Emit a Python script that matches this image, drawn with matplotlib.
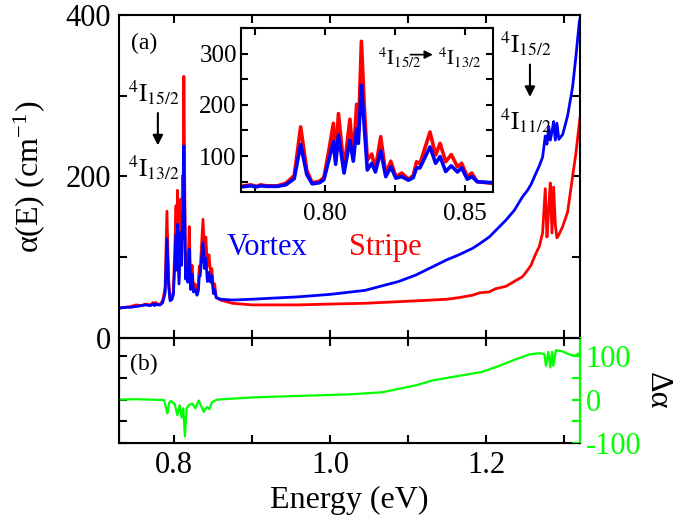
import numpy as np
import matplotlib
matplotlib.use("Agg")
import matplotlib.pyplot as plt
from matplotlib.ticker import MultipleLocator

plt.rcParams['font.family'] = ['Liberation Serif', 'DejaVu Serif']
plt.rcParams['mathtext.fontset'] = 'stix'
plt.rcParams['axes.unicode_minus'] = False

# absorption spectra
energy = [0.730, 0.738, 0.745, 0.752, 0.758, 0.764, 0.770, 0.7735, 0.7755, 0.777, 0.779,
          0.783, 0.786, 0.789, 0.7913, 0.7935, 0.7954, 0.798, 0.7996, 0.8014, 0.803,
          0.8038, 0.8048, 0.8068, 0.8089, 0.8101, 0.8113, 0.8119, 0.8130, 0.8140, 0.8151,
          0.8167, 0.8180, 0.8199, 0.8217, 0.8235, 0.8253, 0.8274, 0.8298, 0.8315, 0.8327,
          0.8339, 0.8375, 0.8395, 0.8411, 0.8431, 0.8451, 0.8473, 0.8488, 0.8508, 0.8524,
          0.8544, 0.860, 0.875, 0.900, 0.920, 0.960, 1.000, 1.045, 1.088, 1.110, 1.131,
          1.150, 1.165, 1.1825, 1.192, 1.2038, 1.212, 1.2253, 1.2359, 1.2466, 1.2530,
          1.2573, 1.2637, 1.2679, 1.2722, 1.2756, 1.2778, 1.2800, 1.2820, 1.2842, 1.2863,
          1.2885, 1.2905, 1.2930, 1.2979, 1.3042, 1.3106, 1.3150, 1.3192, 1.3200]
stripe = [37, 38, 39, 41, 40, 42, 41, 44, 41, 44, 42,
          42, 47, 62, 157, 72, 48, 51, 58, 112, 164,
          92, 183, 75, 172, 96, 201, 140, 324, 200, 92,
          104, 75, 138, 65, 90, 60, 67, 55, 62, 89,
          85, 147, 102, 125, 89, 103, 79, 86, 60, 67,
          50, 47, 43, 41, 41, 41, 42, 43, 45, 46, 47,
          48, 50, 53, 56, 57, 61, 64, 70, 76, 84,
          90, 105, 113, 130, 185, 125, 160, 192, 130, 187,
          140, 124, 128, 138, 156, 200, 230, 266, 272]
vortex = [37, 38, 38, 39, 40, 41, 40, 42, 40, 42, 41,
          41, 44, 56, 123, 64, 46, 48, 54, 93, 128,
          84, 141, 67, 131, 90, 154, 125, 238, 160, 73,
          86, 69, 110, 60, 79, 57, 60, 53, 58, 77,
          77, 118, 86, 99, 70, 81, 69, 77, 55, 60,
          50, 48, 47, 48, 49, 51, 54, 59, 70, 78, 88,
          97, 103, 111, 117, 125, 133, 146, 158, 175, 183,
          190, 204, 213, 224, 250, 240, 262, 245, 255, 268,
          245, 266, 246, 252, 275, 311, 350, 392, 395]

# difference spectrum (panel b)
diff_energy = [0.730, 0.750, 0.770, 0.7877, 0.792, 0.7941, 0.7963, 0.8013, 0.8047, 0.8076,
               0.8101, 0.8122, 0.8143, 0.8165, 0.8194, 0.8236, 0.8278, 0.832, 0.8384, 0.8426,
               0.8456, 0.849, 0.8553, 0.90, 0.95, 1.0244, 1.067, 1.110, 1.131, 1.153,
               1.195, 1.217, 1.238, 1.255, 1.268, 1.2744, 1.2765, 1.2795, 1.2821, 1.2842,
               1.2859, 1.2893, 1.2979, 1.3064, 1.3128, 1.3192]
diff_alpha = [0, 1, 0, -1, -32, -8, -3, -10, -36, -13,
              -41, -20, -85, -20, -13, -9, -20, -2, -28, -17,
              -22, -6, 0, 5, 8, 12, 17, 33, 44, 51,
              64, 78, 93, 104, 107, 105, 78, 110, 74, 110,
              78, 114, 111, 104, 101, 107]

RED = '#ff0000'
BLUE = '#0000ff'
GREEN = '#00ff00'

fig = plt.figure(figsize=(6.9, 5.22), dpi=100)
ax = fig.add_axes([0.1725, 0.3525, 0.668, 0.6188])
axb = fig.add_axes([0.1725, 0.1513, 0.668, 0.2012], sharex=ax)

# panel (a)
ax.plot(energy, stripe, color=RED, lw=2)
ax.plot(energy, vortex, color=BLUE, lw=2)
ax.set_xlim(0.73, 1.32)
ax.set_ylim(0, 400)
ax.xaxis.set_major_locator(MultipleLocator(0.2))
ax.xaxis.set_minor_locator(MultipleLocator(0.1))
ax.yaxis.set_major_locator(MultipleLocator(200))
ax.yaxis.set_minor_locator(MultipleLocator(100))
ax.tick_params(which='both', direction='in', top=True, right=True, length=6,
               width=1.5, labelsize=22, labelbottom=False, pad=6)
for s in ax.spines.values():
    s.set_linewidth(1.5)
ax.set_ylabel(r'α(E) (cm$^{\mathregular{-1}}$)', fontsize=23)
ax.yaxis.set_label_coords(-0.155, 0.5)

ax.text(0.7456, 365, '(a)', fontsize=17, va='center')
ax.text(0.868, 103, 'Vortex', color=BLUE, fontsize=22, va='baseline')
ax.text(1.024, 103, 'Stripe', color=RED, fontsize=22, va='baseline')

ax.text(0.7418, 292, r'$^{4}\mathrm{I}_{15/2}$', fontsize=18, va='baseline')
ax.text(0.7418, 200, r'$^{4}\mathrm{I}_{13/2}$', fontsize=18, va='baseline')
ax.annotate('', xy=(0.7797, 235), xytext=(0.7797, 282),
            arrowprops=dict(arrowstyle='-|>', color='black', lw=1.5, mutation_scale=15))
ax.text(1.2175, 353, r'$^{4}\mathrm{I}_{15/2}$', fontsize=18, va='baseline')
ax.text(1.2175, 258, r'$^{4}\mathrm{I}_{11/2}$', fontsize=18, va='baseline')
ax.annotate('', xy=(1.256, 295), xytext=(1.256, 342),
            arrowprops=dict(arrowstyle='-|>', color='black', lw=1.5, mutation_scale=15))

# panel (b)
axb.set_ylim(-100, 142)
axb.yaxis.set_major_locator(MultipleLocator(100))
axb.yaxis.set_minor_locator(MultipleLocator(50))
axb.tick_params(which='both', direction='in', top=True, length=6, width=1.5,
                labelsize=22, labelleft=False, pad=6)
for s in axb.spines.values():
    s.set_linewidth(1.5)
axb.set_xlabel('Energy (eV)', fontsize=23)
axb.xaxis.set_label_coords(0.5, -0.41)
axb.text(0.7443, 81, '(b)', fontsize=17, va='center')

axg = axb.twinx()
axg.plot(diff_energy, diff_alpha, color=GREEN, lw=1.6)
axg.set_ylim(-100, 142)
axg.yaxis.set_major_locator(MultipleLocator(100))
axg.yaxis.set_minor_locator(MultipleLocator(50))
axg.tick_params(which='both', direction='in', length=6, width=1.5, colors=GREEN,
                labelsize=22, pad=4)
axg.spines['right'].set_color(GREEN)
axg.spines['right'].set_linewidth(1.5)
axg.set_ylabel('Δα', rotation=270, va='center', fontsize=23)
axg.yaxis.set_label_coords(1.167, 0.5)

# inset
ins = fig.add_axes([0.3493, 0.6322, 0.3652, 0.3142])
ins.plot(energy, stripe, color=RED, lw=2.6)
ins.plot(energy, vortex, color=BLUE, lw=2.6)
ins.set_xlim(0.77, 0.86)
ins.set_ylim(30, 350)
ins.xaxis.set_major_locator(MultipleLocator(0.05))
ins.xaxis.set_minor_locator(MultipleLocator(0.025))
ins.yaxis.set_major_locator(MultipleLocator(100))
ins.yaxis.set_minor_locator(MultipleLocator(50))
ins.tick_params(which='both', direction='in', top=True, right=True, length=5,
                width=1.5, labelsize=18)
ins.tick_params(axis='x', pad=8)
ins.tick_params(axis='y', pad=3)
for s in ins.spines.values():
    s.set_linewidth(1.5)
ins.text(0.8190, 277, r'$^{4}\mathrm{I}_{15/2}$', fontsize=15, va='baseline')
ins.text(0.8405, 277, r'$^{4}\mathrm{I}_{13/2}$', fontsize=15, va='baseline')
ins.annotate('', xy=(0.8395, 298), xytext=(0.8295, 298),
             arrowprops=dict(arrowstyle='-|>', color='black', lw=1.2, mutation_scale=12))

fig.savefig('out.png', dpi=100)
